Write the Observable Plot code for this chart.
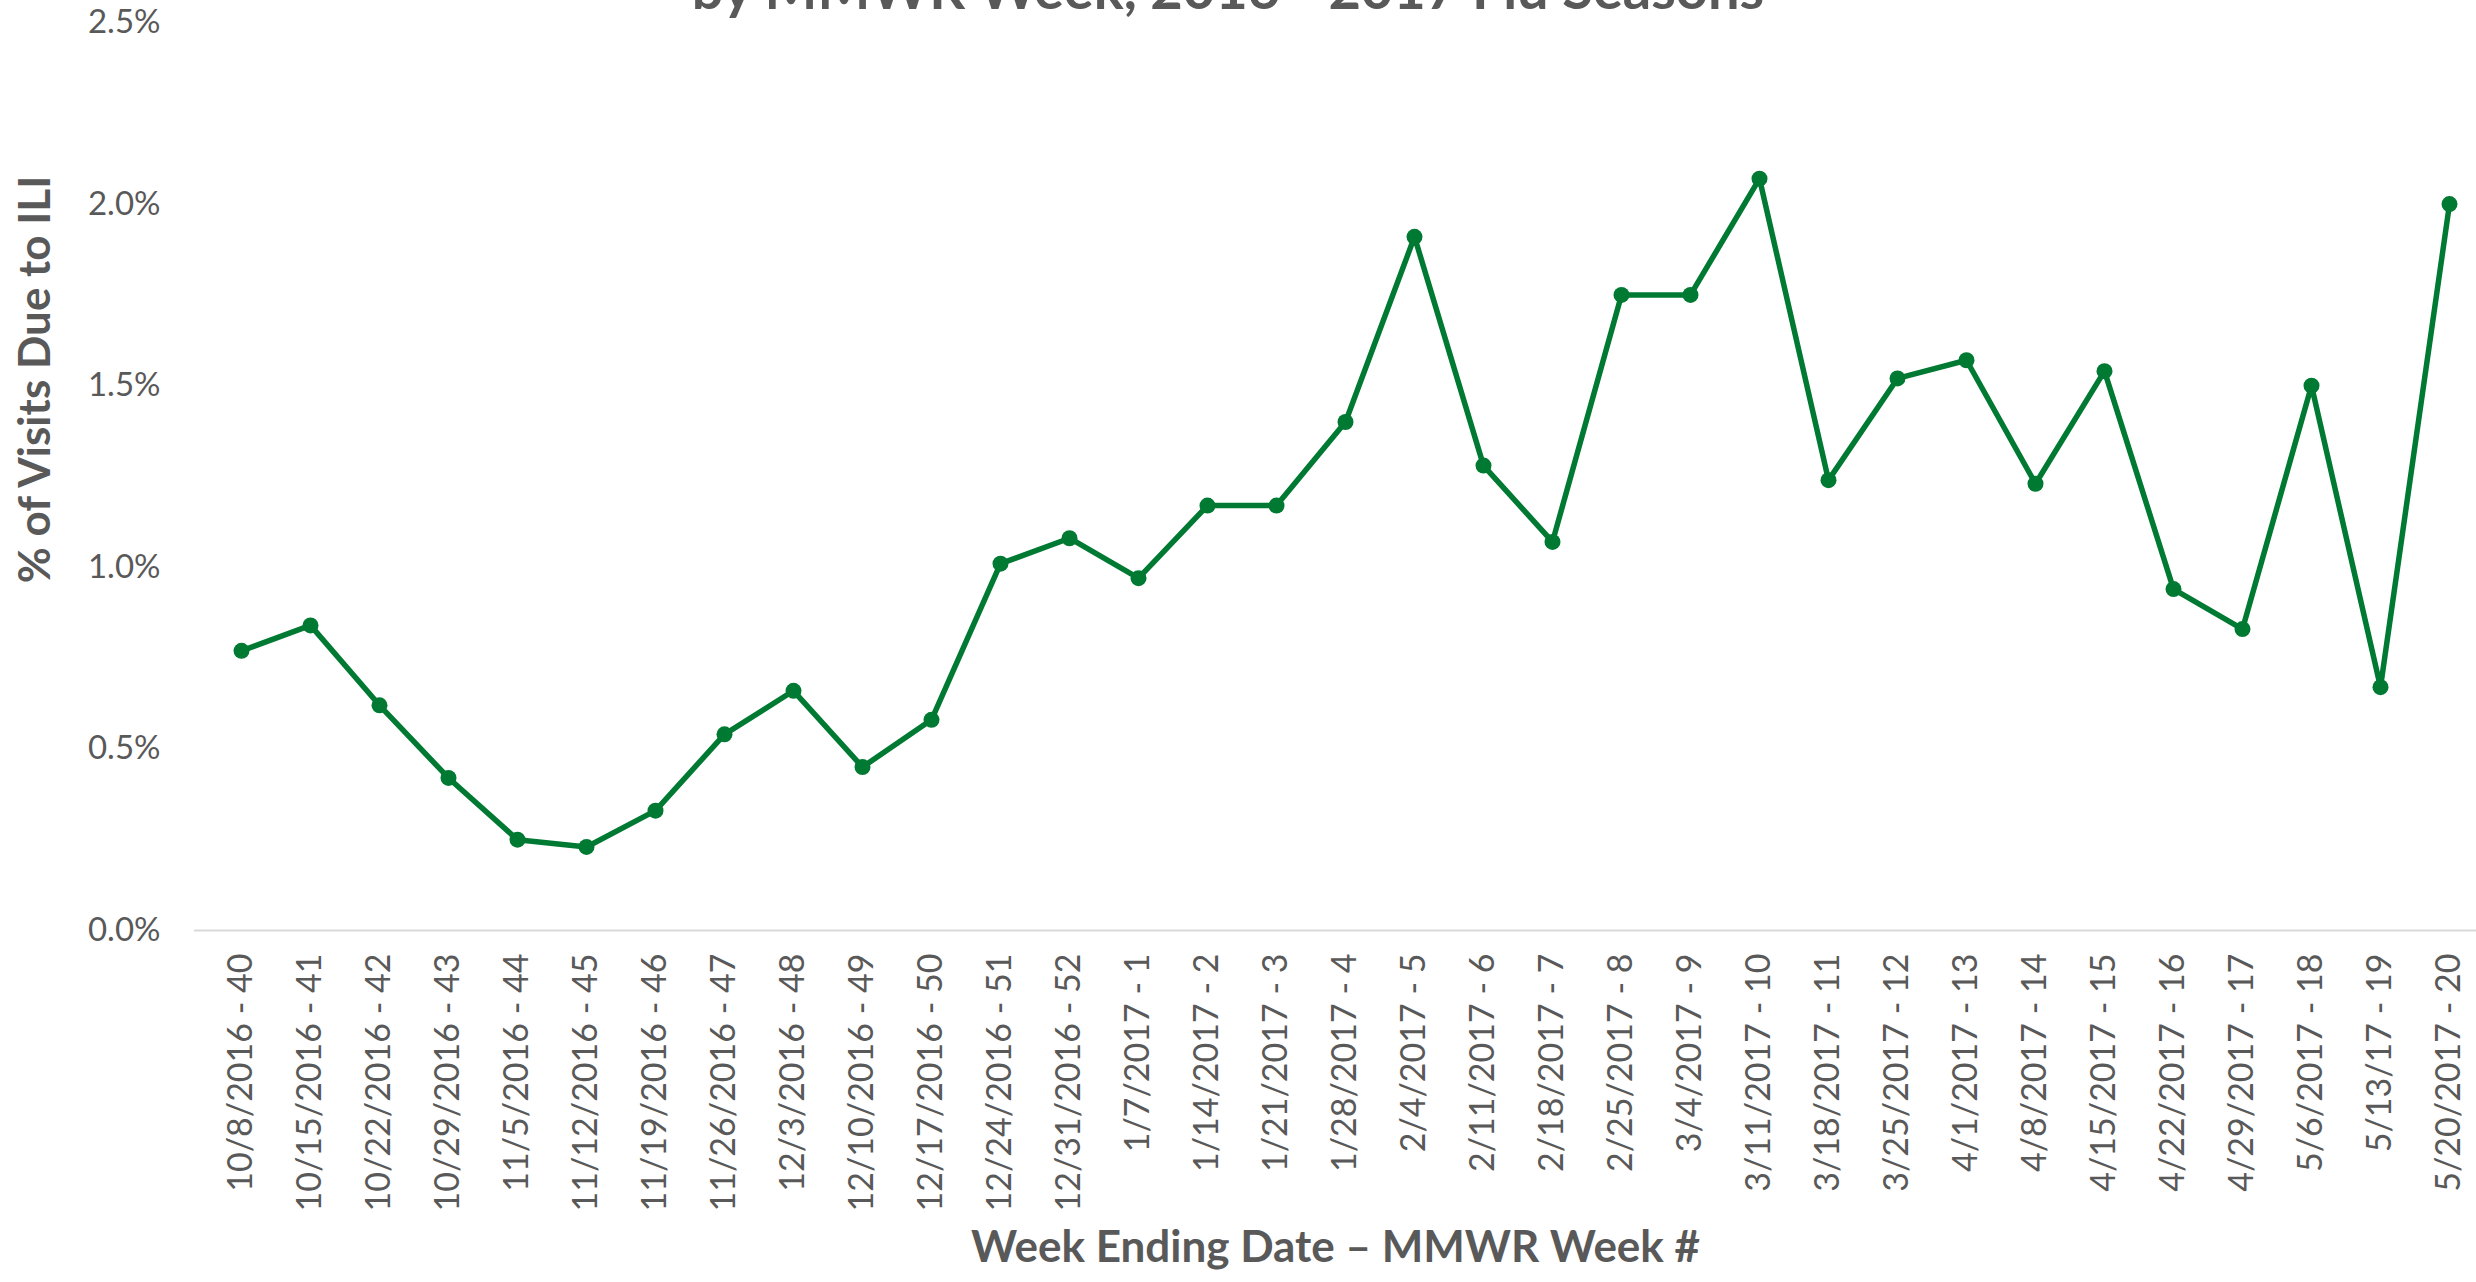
<!DOCTYPE html>
<html>
<head>
<meta charset="utf-8">
<script src="https://cdn.jsdelivr.net/npm/d3@7"></script>
<script src="https://cdn.jsdelivr.net/npm/@observablehq/plot@0.6"></script>
<style>
  html, body { margin: 0; padding: 0; background: #fff; overflow: hidden; }
  #wrap { position: relative; width: 2476px; height: 1282px; }
  #title {
    position: absolute; left: 0; top: -40px; width: 2456px;
    text-align: center; font-family: Lato, sans-serif; font-weight: bold;
    font-size: 56px; line-height: 56px; color: #595959; z-index: 2; white-space: nowrap;
  }
  #chart { position: absolute; left: 0; top: 0; }
  #chart g[aria-label="x-axis tick label"] text { font-size: 34px; }
</style>
</head>
<body>
<div id="wrap">
  <div id="title">by MMWR Week, 2016 - 2017 Flu Seasons</div>
  <div id="chart"></div>
</div>
<script>
const weeks = [
  "10/8/2016 - 40", "10/15/2016 - 41", "10/22/2016 - 42", "10/29/2016 - 43",
  "11/5/2016 - 44", "11/12/2016 - 45", "11/19/2016 - 46", "11/26/2016 - 47",
  "12/3/2016 - 48", "12/10/2016 - 49", "12/17/2016 - 50", "12/24/2016 - 51",
  "12/31/2016 - 52", "1/7/2017 - 1", "1/14/2017 - 2", "1/21/2017 - 3",
  "1/28/2017 - 4", "2/4/2017 - 5", "2/11/2017 - 6", "2/18/2017 - 7",
  "2/25/2017 - 8", "3/4/2017 - 9", "3/11/2017 - 10", "3/18/2017 - 11",
  "3/25/2017 - 12", "4/1/2017 - 13", "4/8/2017 - 14", "4/15/2017 - 15",
  "4/22/2017 - 16", "4/29/2017 - 17", "5/6/2017 - 18", "5/13/17 - 19",
  "5/20/2017 - 20"
];
const iliPercent = [
  0.77, 0.84, 0.62, 0.42, 0.25, 0.23, 0.33, 0.54, 0.66, 0.45, 0.58, 1.01,
  1.08, 0.97, 1.17, 1.17, 1.40, 1.91, 1.28, 1.07, 1.75, 1.75, 2.07, 1.24,
  1.52, 1.57, 1.23, 1.54, 0.94, 0.83, 1.50, 0.67, 2.00
];
const yTicks = [0, 0.5, 1.0, 1.5, 2.0, 2.5];
const xTitle = "Week Ending Date \u2013 MMWR Week #";
const yTitle = "% of Visits Due to ILI";

const data = weeks.map((w, i) => ({week: w, value: iliPercent[i]}));
const green = "#007A33";

const chart = Plot.plot({
  width: 2476,
  height: 1282,
  marginLeft: 194,
  marginRight: 0,
  marginTop: 22,
  marginBottom: 352,
  style: {fontFamily: "Lato, sans-serif", fontSize: "33px", color: "#595959", background: "transparent"},
  x: {type: "point", domain: weeks, range: [232, 2457], padding: 0, tickSize: 0, tickPadding: 23, tickRotate: -90, label: null},
  y: {domain: [0, 2.5], ticks: yTicks, tickFormat: d => d.toFixed(1) + "%", tickSize: 0, tickPadding: 34, label: null},
  marks: [
    Plot.ruleY([0], {stroke: "#d9d9d9", strokeWidth: 2}),
    Plot.line(data, {x: "week", y: "value", stroke: green, strokeWidth: 5.5, strokeLinejoin: "round"}),
    Plot.dot(data, {x: "week", y: "value", r: 8, fill: green, stroke: "none"}),
    Plot.text([xTitle], {frameAnchor: "bottom", dy: 331, textAnchor: "middle", fontSize: 44, fontWeight: "bold", fill: "#595959"}),
    Plot.text([yTitle], {frameAnchor: "left", dx: -159, dy: -97, rotate: -90, textAnchor: "middle", fontSize: 44, fontWeight: "bold", fill: "#595959"})
  ]
});
document.getElementById("chart").appendChild(chart);
</script>
</body>
</html>
